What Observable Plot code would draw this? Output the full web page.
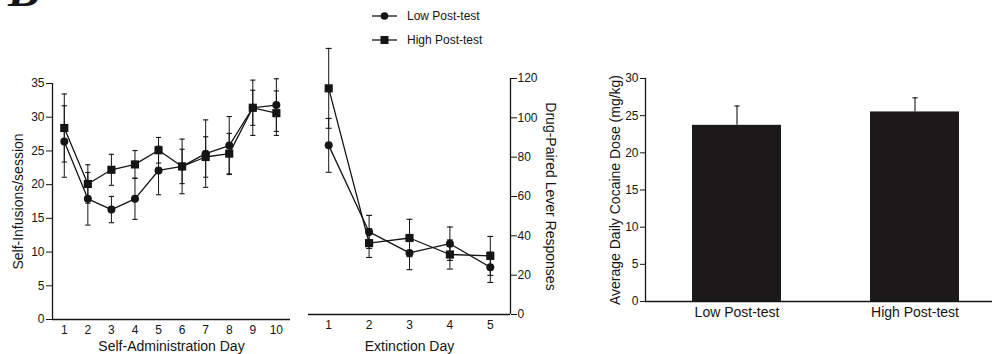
<!DOCTYPE html>
<html>
<head>
<meta charset="utf-8">
<script src="https://cdn.jsdelivr.net/npm/d3@7"></script>
<script src="https://cdn.jsdelivr.net/npm/@observablehq/plot@0.6"></script>
<style>
  html, body { margin: 0; padding: 0; background: #fff; }
  #wrap { position: relative; width: 992px; height: 354px; overflow: hidden; background: #fff;
          font-family: "Liberation Sans", Arial, sans-serif; color: #1a1a1a; }
  .panel { position: absolute; top: 0; }
  .panel svg { max-width: none !important; background: none !important; overflow: visible; }
</style>
</head>
<body>
<div id="wrap">
  <div id="panelA" class="panel" style="left:0px;width:300px;"></div>
  <div id="panelB" class="panel" style="left:290px;width:270px;"></div>
  <div id="panelC" class="panel" style="left:590px;width:402px;"></div>
  <svg id="legend" class="panel" style="left:0;top:0" width="992" height="60"></svg>
</div>
<script>
// ---------- data ----------
const saDays = [1, 2, 3, 4, 5, 6, 7, 8, 9, 10];
const saLow = [26.4, 17.9, 16.3, 17.9, 22.1, 22.7, 24.6, 25.8, 31.4, 31.8];
const saLowErr = [5.3, 3.9, 1.95, 3.05, 3.6, 4.05, 5.0, 4.3, 4.1, 3.9];
const saHigh = [28.4, 20.1, 22.2, 23.0, 25.1, 22.7, 24.1, 24.6, 31.4, 30.6];
const saHighErr = [5.05, 2.85, 2.3, 2.05, 1.9, 2.55, 3.0, 3.0, 2.6, 3.3];

const extDays = [1, 2, 3, 4, 5];
const extLow = [86, 42, 31.3, 36, 24];
const extLowErr = [13.7, 8.4, 8.5, 8.5, 7.7];
const extHigh = [115, 36.3, 38.9, 30.5, 29.8];
const extHighErr = [20.3, 7.3, 9.5, 7.4, 9.9];

const groups = ["Low Post-test", "High Post-test"];
const doseMean = [23.7, 25.5];
const doseErr = [2.6, 1.9];

const saYTicks = [0, 5, 10, 15, 20, 25, 30, 35];
const extYTicks = [0, 20, 40, 60, 80, 100, 120];
const doseYTicks = [0, 5, 10, 15, 20, 25, 30];

const titleSA_Y = "Self-Infusions/session";
const titleSA_X = "Self-Administration Day";
const titleExt_X = "Extinction Day";
const titleExt_Y = "Drug-Paired Lever Responses";
const titleDose_Y = "Average Daily Cocaine Dose (mg/kg)";

// ---------- helpers ----------
const INK = "#151515";
const FONT = "'Liberation Sans', Arial, sans-serif";
const capSymbol = {
  draw(ctx, size) {
    const h = Math.sqrt(size / Math.PI);
    ctx.moveTo(-h, 0); ctx.lineTo(h, 0);
  }
};
const rows = (days, vals, errs, g) => days.map((d, i) => ({day: d, v: vals[i], e: errs[i], group: g}));
const saL = rows(saDays, saLow, saLowErr, "Low");
const saH = rows(saDays, saHigh, saHighErr, "High");
const exL = rows(extDays, extLow, extLowErr, "Low");
const exH = rows(extDays, extHigh, extHighErr, "High");

function seriesMarks(L, H, cap) {
  const all = L.concat(H);
  return [
    Plot.ruleX(all, {x: "day", y1: d => d.v - d.e, y2: d => d.v + d.e, stroke: INK, strokeWidth: 1}),
    Plot.dot(all, {x: "day", y: d => d.v + d.e, symbol: capSymbol, r: cap, stroke: INK, fill: "none", strokeWidth: 1.1}),
    Plot.dot(all, {x: "day", y: d => d.v - d.e, symbol: capSymbol, r: cap, stroke: INK, fill: "none", strokeWidth: 1.1}),
    Plot.line(L, {x: "day", y: "v", stroke: INK, strokeWidth: 1.3}),
    Plot.line(H, {x: "day", y: "v", stroke: INK, strokeWidth: 1.3}),
    Plot.dot(L, {x: "day", y: "v", symbol: "circle", r: 4, fill: INK}),
    Plot.dot(H, {x: "day", y: "v", symbol: "square", r: 4.6, fill: INK})
  ];
}
const baseStyle = {fontFamily: FONT, fontSize: "12px", color: INK, background: "none", overflow: "visible"};

// ---------- panel A ----------
const A = Plot.plot({
  width: 300, height: 354,
  marginLeft: 52, marginRight: 10, marginTop: 83, marginBottom: 35,
  style: baseStyle,
  x: {domain: [0.5, 10.6]},
  y: {domain: [0, 35]},
  marks: [
    Plot.axisY({ticks: saYTicks, tickSize: 6, tickPadding: 2, label: null, fontSize: 12}),
    Plot.axisX({ticks: saDays, tickFormat: d3.format("d"), tickSize: 0, tickPadding: 6, label: null, fontSize: 12}),
    Plot.ruleX([0.5], {stroke: INK, strokeWidth: 1.3}),
    Plot.ruleY([0], {stroke: INK, strokeWidth: 1.3}),
    ...seriesMarks(saL, saH, 2.6),
    Plot.text([titleSA_Y], {frameAnchor: "left", dx: -34, rotate: -90, textAnchor: "middle", lineAnchor: "middle", fontSize: 14, fill: INK}),
    Plot.text([titleSA_X], {frameAnchor: "bottom", dy: 27, textAnchor: "middle", lineAnchor: "middle", fontSize: 14, fill: INK})
  ]
});
document.getElementById("panelA").append(A);

// ---------- panel B ----------
const B = Plot.plot({
  width: 270, height: 354,
  marginLeft: 18, marginRight: 50, marginTop: 78, marginBottom: 40,
  style: baseStyle,
  x: {domain: [0.5, 5.5]},
  y: {domain: [0, 120]},
  marks: [
    Plot.axisY({anchor: "right", ticks: extYTicks, tickSize: 6, tickPadding: 1, label: null, fontSize: 12}),
    Plot.axisX({ticks: extDays, tickFormat: d3.format("d"), tickSize: 0, tickPadding: 6, label: null, fontSize: 12}),
    Plot.ruleX([5.5], {stroke: INK, strokeWidth: 1.3}),
    Plot.ruleY([0], {stroke: INK, strokeWidth: 1.3}),
    ...seriesMarks(exL, exH, 3),
    Plot.text([titleExt_Y], {frameAnchor: "right", dx: 40, rotate: 90, textAnchor: "middle", lineAnchor: "middle", fontSize: 14, fill: INK}),
    Plot.text([titleExt_X], {frameAnchor: "bottom", dy: 32, textAnchor: "middle", lineAnchor: "middle", fontSize: 14, fill: INK})
  ]
});
document.getElementById("panelB").append(B);

// ---------- panel C ----------
const doseRows = groups.map((g, i) => ({group: g, v: doseMean[i], e: doseErr[i]}));
const C = Plot.plot({
  width: 402, height: 354,
  marginLeft: 55, marginRight: 0, marginTop: 78, marginBottom: 53,
  style: baseStyle,
  x: {domain: groups, range: [55, 415], paddingInner: 0.5, paddingOuter: 0.26, align: 0.5},
  y: {domain: [0, 30]},
  marks: [
    Plot.axisY({ticks: doseYTicks, tickSize: 5, tickPadding: 2, label: null, fontSize: 12}),
    Plot.axisX({tickSize: 0, tickPadding: 6, label: null, fontSize: 14}),
    Plot.barY(doseRows, {x: "group", y: "v", fill: "#1c191a"}),
    Plot.ruleX(doseRows, {x: "group", y1: "v", y2: d => d.v + d.e, stroke: INK, strokeWidth: 1.1}),
    Plot.dot(doseRows, {x: "group", y: d => d.v + d.e, symbol: capSymbol, r: 2.6, stroke: INK, fill: "none", strokeWidth: 1.1}),
    Plot.frame({anchor: "left", stroke: INK, strokeWidth: 1.3}),
    Plot.ruleY([0], {stroke: INK, strokeWidth: 1.3}),
    Plot.text([titleDose_Y], {frameAnchor: "left", dx: -30, rotate: -90, textAnchor: "middle", lineAnchor: "middle", fontSize: 14, fill: INK})
  ]
});
document.getElementById("panelC").append(C);

// ---------- legend & panel letter ----------
const leg = d3.select("#legend");
leg.append("text").attr("x", 8).attr("y", 6)
  .attr("font-family", "'Liberation Serif', 'Times New Roman', serif")
  .attr("font-weight", "bold").attr("font-style", "italic")
  .attr("font-size", 48).attr("fill", INK).text("B");
const legItems = [{label: "Low Post-test", sym: "circle", y: 16}, {label: "High Post-test", sym: "square", y: 40}];
legItems.forEach(it => {
  leg.append("line").attr("x1", 372).attr("x2", 397).attr("y1", it.y).attr("y2", it.y)
    .attr("stroke", INK).attr("stroke-width", 1.3);
  if (it.sym === "circle") {
    leg.append("circle").attr("cx", 384.5).attr("cy", it.y).attr("r", 3.8).attr("fill", INK);
  } else {
    leg.append("rect").attr("x", 380.5).attr("y", it.y - 4).attr("width", 8).attr("height", 8).attr("fill", INK);
  }
  leg.append("text").attr("x", 407).attr("y", it.y).attr("dy", "0.35em")
    .attr("font-family", FONT).attr("font-size", 12).attr("fill", INK).text(it.label);
});
</script>
</body>
</html>
